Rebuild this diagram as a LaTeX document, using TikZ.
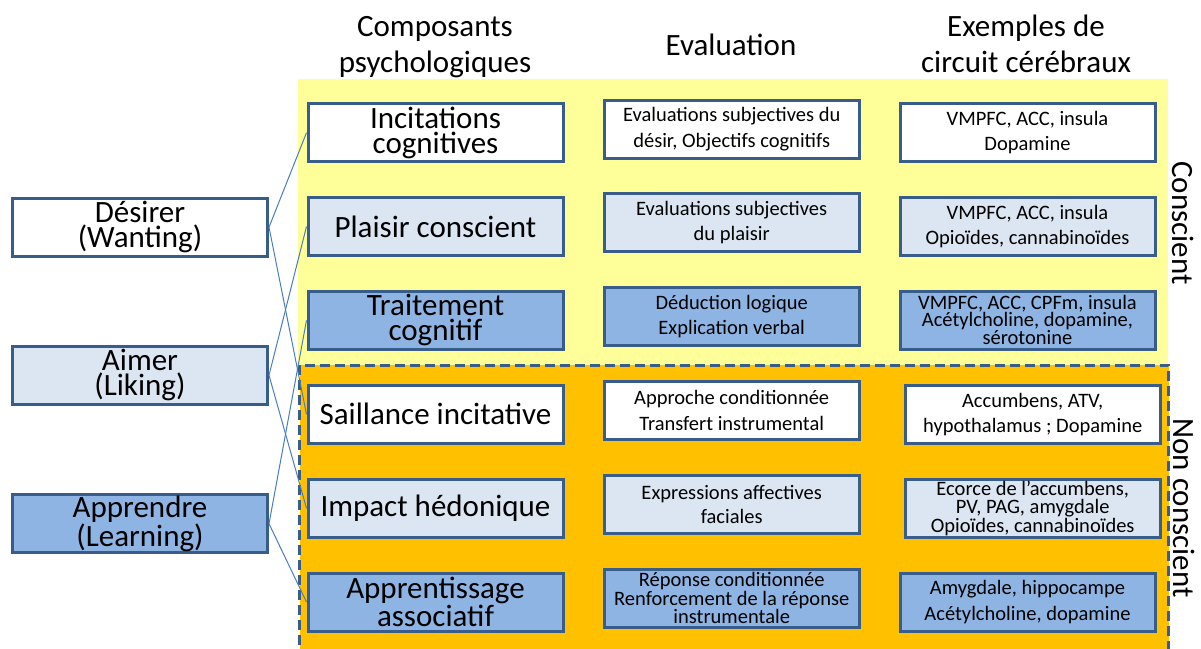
\documentclass[tikz,border=0pt]{standalone}
\usepackage{fontspec}
\setmainfont{Carlito}
\definecolor{bord}{HTML}{385D8A}
\definecolor{lblue}{HTML}{DCE6F2}
\definecolor{mblue}{HTML}{8EB4E3}
\definecolor{pyellow}{HTML}{FFFF99}
\definecolor{orng}{HTML}{FFC000}
\definecolor{conn}{HTML}{4A7EBB}
\begin{document}
\begin{tikzpicture}[x=1pt,y=-1pt,
  box/.style={draw=bord, line width=3pt, rectangle, minimum width=255pt, minimum height=58pt, inner sep=0pt, align=center},
  wbox/.style={box, fill=white},
  lbox/.style={box, fill=lblue},
  mbox/.style={box, fill=mblue},
  big/.style={font=\fontsize{31}{25}\selectfont},
  small/.style={font=\fontsize{20.5}{25.5}\selectfont},
  tight/.style={font=\fontsize{20.5}{17}\selectfont},
  hdr/.style={align=center, inner sep=0pt, font=\fontsize{31}{36}\selectfont},
  side/.style={rotate=-90, inner sep=0pt, font=\fontsize{31}{36}\selectfont},
  link/.style={draw=conn, line width=1pt}
]
\useasboundingbox (0,0) rectangle (1201,648);
% zones
\fill[pyellow] (298,79) rectangle (1168,365);
\fill[orng] (299.5,365) rectangle (1168.5,660);
\draw[bord, line width=3pt, dash pattern=on 10pt off 5pt] (299.5,660) -- (299.5,365) -- (1168.5,365) -- (1168.5,660);

% headers
\node[hdr] (h1) at (435,47.5) {Composants\\psychologiques};
\node[hdr, anchor=base] (h2) at (731,55) {Evaluation};
\node[hdr] (h3) at (1026,44) {Exemples de\\circuit cérébraux};

% side labels
\node[side] (s1) at (1183,223) {Conscient};
\node[side] (s2) at (1184,508) {Non conscient};

% left column
\node[wbox, big] (desirer) at (140,227.2) {Désirer\\(Wanting)};
\node[lbox, big] (aimer) at (140,375.3) {Aimer\\(Liking)};
\node[mbox, big] (apprendre) at (140,523.7) {Apprendre\\(Learning)};

% components column
\node[wbox, big] (c1) at (435.5,132.7) {Incitations\\cognitives};
\node[lbox, big] (c2) at (435.5,226.5) {Plaisir conscient};
\node[mbox, big] (c3) at (435.5,320.3) {Traitement\\cognitif};
\node[wbox, big] (c4) at (435.5,414.3) {Saillance incitative};
\node[lbox, big] (c5) at (435.5,508.3) {Impact hédonique};
\node[mbox, big] (c6) at (435.5,602) {Apprentissage\\associatif};

% evaluation column
\node[wbox, small] (e1) at (731.7,129) {Evaluations subjectives du\\désir, Objectifs cognitifs};
\node[lbox, small] (e2) at (731.7,222.7) {Evaluations subjectives\\du plaisir};
\node[mbox, small] (e3) at (731.7,316.3) {Déduction logique\\Explication verbal};
\node[wbox, small] (e4) at (731.7,410.7) {Approche conditionnée\\Transfert instrumental};
\node[lbox, font=\fontsize{20.5}{23.5}\selectfont] (e5) at (731.7,504.3) {Expressions affectives\\faciales};
\node[mbox, tight] (e6) at (731.7,598.3) {Réponse conditionnée\\Renforcement de la réponse\\instrumentale};

% brain circuits column
\node[wbox, small] (r1) at (1027.5,132.5) {VMPFC, ACC, insula\\Dopamine};
\node[lbox, small] (r2) at (1027.5,226.3) {VMPFC, ACC, insula\\Opioïdes, cannabinoïdes};
\node[mbox, tight] (r3) at (1027.5,320) {VMPFC, ACC, CPFm, insula\\Acétylcholine, dopamine,\\sérotonine};
\node[wbox, font=\fontsize{20.5}{24.5}\selectfont] (r4) at (1032.7,414.3) {Accumbens, ATV,\\hypothalamus ; Dopamine};
\node[lbox, font=\fontsize{20.5}{17.5}\selectfont] (r5) at (1032.7,508.3) {Ecorce de l’accumbens,\\PV, PAG, amygdale\\Opioïdes, cannabinoïdes};
\node[mbox, small] (r6) at (1027.5,602) {Amygdale, hippocampe\\Acétylcholine, dopamine};

% connectors
\draw[link] (desirer.east) -- (c1.west);
\draw[link] (desirer.east) -- (c4.west);
\draw[link] (aimer.east) -- (c2.west);
\draw[link] (aimer.east) -- (c5.west);
\draw[link] (apprendre.east) -- (c3.west);
\draw[link] (apprendre.east) -- (c6.west);
\end{tikzpicture}
\end{document}
